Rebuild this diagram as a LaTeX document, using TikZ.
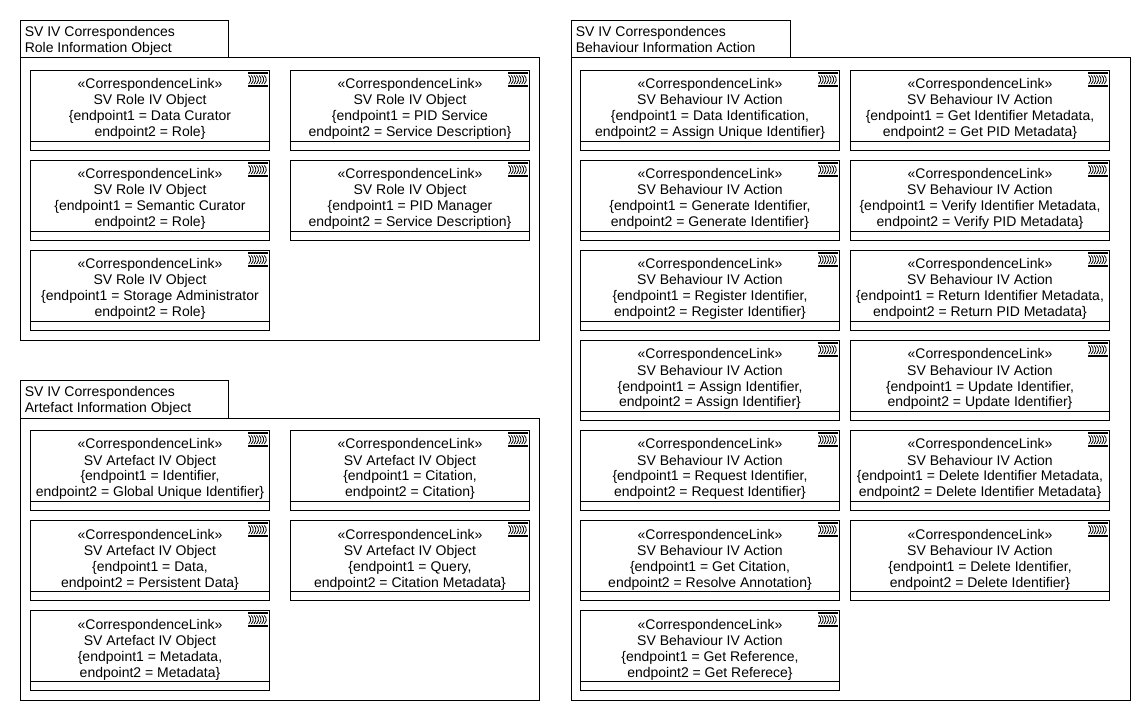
\documentclass[tikz,border=0pt]{standalone}
\usepackage{fontspec}
\setmainfont{Liberation Sans}
\usetikzlibrary{positioning}
\tikzset{
  linkbox/.style={draw=black, line width=0.75pt, anchor=north west, outer sep=0pt, minimum height=53.25pt, align=center, inner sep=0pt, text depth=0pt, font=\fontsize{10.5}{12}\selectfont},
  slotbox/.style={draw=black, line width=0.75pt, outer sep=0pt, minimum height=6.75pt, inner sep=0pt},
  pkgframe/.style={draw=black, line width=0.75pt},
  pkgtext/.style={anchor=north west, align=left, inner sep=0pt, font=\fontsize{10.5}{12}\selectfont},
}
% one correspondence link: name, x, y, wide (px), second line, endpoints
\newcommand{\corrlink}[7]{
  \node [linkbox, minimum width=#4*0.75pt] (#1) at (#2,#3) {\rule{0pt}{10.5pt}\guillemotleft CorrespondenceLink\guillemotright\\#5\\#6\\#7};
  \node [slotbox, minimum width=#4*0.75pt, below=0pt of #1] (#1s) {};
  \draw [line width=1.1pt] ([xshift=-16pt,yshift=-1.9pt]#1.north east) -- ([xshift=-0.8pt,yshift=-1.9pt]#1.north east);
  \draw [line width=1.1pt] ([xshift=-16pt,yshift=-11.6pt]#1.north east) -- ([xshift=-0.8pt,yshift=-11.6pt]#1.north east);
  \foreach \k in {0,...,6}
    \draw [line width=0.6pt] ([xshift=-15.6pt+\k*1.95pt,yshift=-3.7pt]#1.north east) arc[start angle=50, end angle=-50, radius=4.2pt];
}
\begin{document}
\begin{tikzpicture}[x=0.75pt, y=-0.75pt, shift={(0.5,0.5)}]
\useasboundingbox (-0.5,-0.5) rectangle (1139.5,719.5);

% packages
\draw [pkgframe] (20,57) rectangle (539,340);
\draw [pkgframe] (20,57) -- (20,20) -- (228,20) -- (228,57);
\node [pkgtext] (roletitle) at (24,26) {SV IV Correspondences\\Role Information Object};

\draw [pkgframe] (20,418) rectangle (539,700);
\draw [pkgframe] (20,418) -- (20,380) -- (228,380) -- (228,418);
\node [pkgtext] (arttitle) at (24,386) {SV IV Correspondences\\Artefact Information Object};

\draw [pkgframe] (571,57) rectangle (1130,700);
\draw [pkgframe] (571,57) -- (571,20) -- (790,20) -- (790,57);
\node [pkgtext] (behtitle) at (575,26) {SV IV Correspondences\\Behaviour Information Action};

% role
\corrlink{ra}{30}{70}{239}{SV Role IV Object}{\{endpoint1 = Data Curator}{endpoint2 = Role\}}
\corrlink{rb}{30}{160}{239}{SV Role IV Object}{\{endpoint1 = Semantic Curator}{endpoint2 = Role\}}
\corrlink{rc}{30}{250}{239}{SV Role IV Object}{\{endpoint1 = Storage Administrator}{endpoint2 = Role\}}
\corrlink{rd}{290}{70}{239}{SV Role IV Object}{\{endpoint1 = PID Service}{endpoint2 = Service Description\}}
\corrlink{re}{290}{160}{239}{SV Role IV Object}{\{endpoint1 = PID Manager}{endpoint2 = Service Description\}}

% artefact
\corrlink{aa}{30}{430}{239}{SV Artefact IV Object}{\{endpoint1 = Identifier,}{endpoint2 = Global Unique Identifier\}}
\corrlink{ab}{30}{520}{239}{SV Artefact IV Object}{\{endpoint1 = Data,}{endpoint2 = Persistent Data\}}
\corrlink{ac}{30}{610}{239}{SV Artefact IV Object}{\{endpoint1 = Metadata,}{endpoint2 = Metadata\}}
\corrlink{ad}{290}{430}{239}{SV Artefact IV Object}{\{endpoint1 = Citation,}{endpoint2 = Citation\}}
\corrlink{ae}{290}{520}{239}{SV Artefact IV Object}{\{endpoint1 = Query,}{endpoint2 = Citation Metadata\}}

% behaviour
\corrlink{ba}{580}{70}{259}{SV Behaviour IV Action}{\{endpoint1 = Data Identification,}{endpoint2 = Assign Unique Identifier\}}
\corrlink{bb}{580}{160}{259}{SV Behaviour IV Action}{\{endpoint1 = Generate Identifier,}{endpoint2 = Generate Identifier\}}
\corrlink{bc}{580}{250}{259}{SV Behaviour IV Action}{\{endpoint1 = Register Identifier,}{endpoint2 = Register Identifier\}}
\corrlink{bd}{580}{340}{259}{SV Behaviour IV Action}{\{endpoint1 = Assign Identifier,}{endpoint2 = Assign Identifier\}}
\corrlink{be}{580}{430}{259}{SV Behaviour IV Action}{\{endpoint1 = Request Identifier,}{endpoint2 = Request Identifier\}}
\corrlink{bf}{580}{520}{259}{SV Behaviour IV Action}{\{endpoint1 = Get Citation,}{endpoint2 = Resolve Annotation\}}
\corrlink{bg}{580}{610}{259}{SV Behaviour IV Action}{\{endpoint1 = Get Reference,}{endpoint2 = Get Referece\}}
\corrlink{bh}{850}{70}{259}{SV Behaviour IV Action}{\{endpoint1 = Get Identifier Metadata,}{endpoint2 = Get PID Metadata\}}
\corrlink{bi}{850}{160}{259}{SV Behaviour IV Action}{\{endpoint1 = Verify Identifier Metadata,}{endpoint2 = Verify PID Metadata\}}
\corrlink{bj}{850}{250}{259}{SV Behaviour IV Action}{\{endpoint1 = Return Identifier Metadata,}{endpoint2 = Return PID Metadata\}}
\corrlink{bk}{850}{340}{259}{SV Behaviour IV Action}{\{endpoint1 = Update Identifier,}{endpoint2 = Update Identifier\}}
\corrlink{bl}{850}{430}{259}{SV Behaviour IV Action}{\{endpoint1 = Delete Identifier Metadata,}{endpoint2 = Delete Identifier Metadata\}}
\corrlink{bm}{850}{520}{259}{SV Behaviour IV Action}{\{endpoint1 = Delete Identifier,}{endpoint2 = Delete Identifier\}}

\end{tikzpicture}
\end{document}
